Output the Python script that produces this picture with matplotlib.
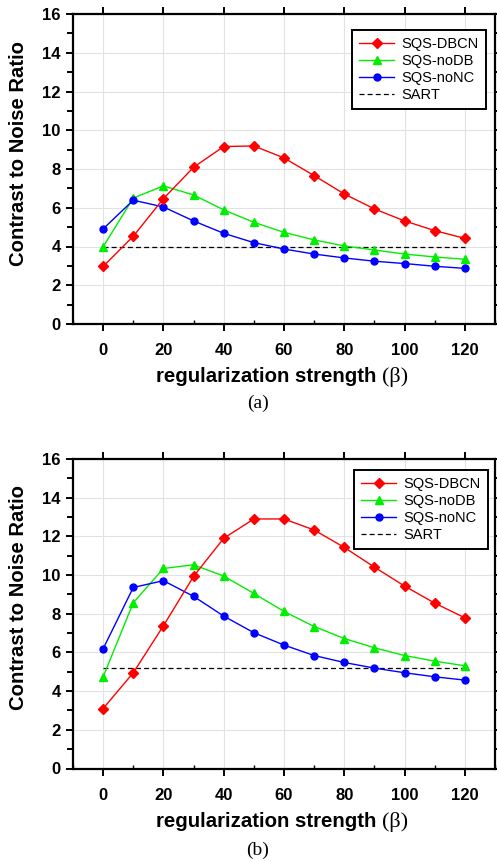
import matplotlib
matplotlib.use("Agg")
import matplotlib.pyplot as plt
from matplotlib.ticker import MultipleLocator

beta = [0, 10, 20, 30, 40, 50, 60, 70, 80, 90, 100, 110, 120]

# Panel (a)
a_dbcn = [2.97, 4.53, 6.47, 8.09, 9.16, 9.19, 8.57, 7.66, 6.71, 5.94, 5.32, 4.82, 4.42]
a_nodb = [3.99, 6.50, 7.13, 6.66, 5.89, 5.25, 4.73, 4.34, 4.03, 3.82, 3.61, 3.46, 3.34]
a_nonc = [4.91, 6.39, 6.04, 5.32, 4.68, 4.20, 3.87, 3.61, 3.41, 3.24, 3.12, 2.98, 2.87]
a_sart = 4.0

# Panel (b)
b_dbcn = [3.10, 4.95, 7.38, 9.93, 11.90, 12.90, 12.90, 12.33, 11.43, 10.41, 9.43, 8.55, 7.79]
b_nodb = [4.74, 8.57, 10.34, 10.53, 9.95, 9.05, 8.12, 7.34, 6.72, 6.24, 5.84, 5.55, 5.31]
b_nonc = [6.19, 9.36, 9.71, 8.90, 7.88, 7.02, 6.38, 5.84, 5.48, 5.19, 4.95, 4.74, 4.57]
b_sart = 5.22

series_labels = ["SQS-DBCN", "SQS-noDB", "SQS-noNC", "SART"]
xticks = [0, 20, 40, 60, 80, 100, 120]
yticks = [0, 2, 4, 6, 8, 10, 12, 14, 16]
ylabel = "Contrast to Noise Ratio"
xlabel_main = "regularization strength "
xlabel_sym = "(β)"
captions = ["(a)", "(b)"]

W, H = 497, 861
fig = plt.figure(figsize=(W / 100, H / 100), dpi=100)

SANS = ["Liberation Sans", "Arial", "DejaVu Sans"]
SERIF = ["Liberation Serif", "Times New Roman", "DejaVu Serif"]


def px_axes(left, top, right, bottom):
    return fig.add_axes([left / W, 1 - bottom / H, (right - left) / W, (bottom - top) / H])


def draw(ax, dbcn, nodb, nonc, sart, legend_px, caption, cap_y, ylab_y):
    ax.plot(beta, dbcn, color="red", marker="D", markersize=5, lw=1.0,
            label=series_labels[0], zorder=4)
    ax.plot(beta, nodb, color="#00ee00", marker="^", markersize=6, lw=1.0,
            label=series_labels[1], zorder=3)
    ax.plot(beta, nonc, color="blue", marker="o", markersize=5, lw=1.0,
            label=series_labels[2], zorder=3)
    ax.plot([beta[0], beta[-1]], [sart, sart], color="black", ls=(0, (4, 2.5)),
            lw=0.9, label=series_labels[3], zorder=2)

    ax.set_xlim(-10, 130)
    ax.set_ylim(0, 16)
    ax.set_xticks(xticks)
    ax.set_yticks(yticks)
    ax.xaxis.set_minor_locator(MultipleLocator(10))
    ax.yaxis.set_minor_locator(MultipleLocator(1))
    ax.grid(True, which="major", color="#e2e2e2", lw=0.8, zorder=0)
    ax.set_axisbelow(True)
    for s in ax.spines.values():
        s.set_linewidth(1.6)

    ax.tick_params(axis="y", which="major", direction="out", length=5, width=1.4,
                   left=True, right=True, labelsize=12, pad=4)
    ax.tick_params(axis="y", which="minor", direction="out", length=4, width=1.4,
                   left=True, right=True)
    ax.tick_params(axis="x", which="major", direction="out", length=5, width=1.4,
                   bottom=True, top=True, labelsize=12, pad=9)
    ax.tick_params(axis="x", which="minor", direction="in", length=3, width=1.0,
                   bottom=True, top=False)
    for lab in ax.get_xticklabels() + ax.get_yticklabels():
        lab.set_fontweight("bold")
        lab.set_family(SANS)

    fig.text(18.5 / W, 1 - ylab_y / H, ylabel, fontsize=14.6, fontweight="bold",
             family=SANS, rotation=90, ha="center", va="center")

    t1 = fig.text(0.5, 0, xlabel_main, fontsize=14.7, fontweight="bold", family=SANS,
                  ha="left", va="center")
    ax._tmp = t1

    lx0, ly0, lx1, ly1 = legend_px
    bbox = ax.transAxes.inverted().transform(
        fig.transFigure.transform([[lx0 / W, 1 - ly0 / H], [lx1 / W, 1 - ly1 / H]]))
    leg = ax.legend(loc="upper right",
                    bbox_to_anchor=(bbox[1][0], bbox[0][1]),
                    prop={"family": SANS, "size": 10.5},
                    frameon=True, fancybox=False, framealpha=1, edgecolor="black",
                    borderpad=0.5, labelspacing=0.2, handlelength=2.4,
                    handletextpad=0.5, borderaxespad=0.0)
    leg.get_frame().set_linewidth(1.4)
    fig.text(257.5 / W, 1 - cap_y / H, caption, fontsize=14, family=SERIF,
             ha="center", va="center")


ax1 = px_axes(73, 14, 495, 324)
ax2 = px_axes(73, 459, 495, 768.5)
draw(ax1, a_dbcn, a_nodb, a_nonc, a_sart, (352.7, 30, 486, 112), captions[0], 403, 153.5)
draw(ax2, b_dbcn, b_nodb, b_nonc, b_sart, (356.7, 470, 488, 551.7), captions[1], 850, 598)

# place xlabels: bold sans main text followed by serif symbol
fig.canvas.draw()
r = fig.canvas.get_renderer()
for ax, yc in ((ax1, 377), (ax2, 821.5)):
    t1 = ax._tmp
    sym = fig.text(0, 1 - yc / H, xlabel_sym, fontsize=16, family=SERIF,
                   ha="left", va="center")
    w1 = t1.get_window_extent(r).width
    w2 = sym.get_window_extent(r).width
    total = w1 + w2
    x0 = 282.5 - total / 2
    t1.set_position((x0 / W, 1 - yc / H))
    sym.set_position(((x0 + w1) / W, 1 - yc / H))

fig.savefig("out.png", dpi=100)
